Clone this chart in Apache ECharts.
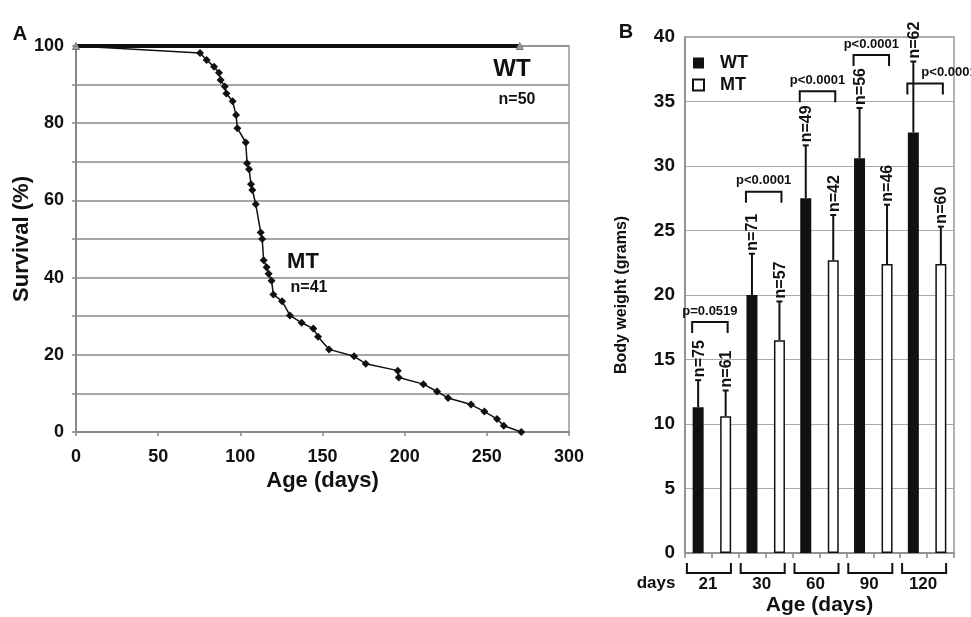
<!DOCTYPE html>
<html><head><meta charset="utf-8">
<script src="https://cdn.jsdelivr.net/npm/echarts@6/dist/echarts.min.js"></script>
<style>html,body{margin:0;padding:0;background:#fff}#c{width:971px;height:617px}</style>
</head><body><div id="c"></div>
<script>
// ---------- Panel A: survival ----------
const mtAge = [0,75.5,79.5,84,87,88,90.5,91.5,95.3,97.4,98.2,103.3,104.1,105.3,106.5,107.3,109.4,112.4,113.3,114.2,116,117.2,119,120.1,125.4,130.2,137.3,144.4,147.3,154,169.2,176.3,195.8,196.4,211.4,219.7,226.4,240.4,248.5,256.2,260.3,271];
const mtSurvival = [100,98.2,96.4,94.6,93.1,91.2,89.5,87.7,85.7,82.1,78.7,75.0,69.6,68.1,64.2,62.7,59.0,51.7,50.0,44.5,42.7,41.0,39.2,35.6,33.9,30.2,28.3,26.8,24.7,21.4,19.6,17.7,15.9,14.1,12.4,10.5,8.8,7.1,5.3,3.4,1.6,0];
const wtAge = [0, 270];
const wtSurvival = [100, 100];
const survivalTicks = [0,20,40,60,80,100];

// ---------- Panel B: body weight ----------
const ageCategories = ['21','30','60','90','120'];
const wtWeight = [11.3, 20.0, 27.5, 30.6, 32.6];
const wtErrTop = [13.4, 23.2, 31.6, 34.5, 38.1];
const mtWeight = [10.6, 16.5, 22.7, 22.4, 22.4];
const mtErrTop = [12.6, 19.5, 26.2, 27.0, 25.3];
const wtN = ['n=75','n=71','n=49','n=56','n=62'];
const mtN = ['n=61','n=57','n=42','n=46','n=60'];
const pLabels = ['p=0.0519','p<0.0001','p<0.0001','p<0.0001','p<0.0001'];
const pLevels = [17.9, 28.0, 35.8, 38.6, 36.4];

const FONT = "'Liberation Sans', Arial, Helvetica, sans-serif";
const INK = '#111';
const BAR_W = 11, BAR_GAP = 1.5;
const OFF = (BAR_W + BAR_W * BAR_GAP) / 2;

const chart = echarts.init(document.getElementById('c'), null, {renderer: 'canvas'});

function errSeries(name, values, tops, labels, sign) {
  return {
    type: 'custom', name: name, xAxisIndex: 1, yAxisIndex: 1, clip: false, z: 5,
    data: values.map((v, i) => [i, v, tops[i]]),
    encode: {x: 0, y: [1, 2]},
    renderItem: function (params, api) {
      const i = api.value(0);
      const b = api.coord([i, api.value(1)]);
      const t = api.coord([i, api.value(2)]);
      const x = b[0] + sign * OFF;
      return {type: 'group', children: [
        {type: 'line', shape: {x1: x, y1: b[1], x2: x, y2: t[1]}, style: {stroke: INK, lineWidth: 2}},
        {type: 'line', shape: {x1: x - 3, y1: t[1], x2: x + 3, y2: t[1]}, style: {stroke: INK, lineWidth: 2}},
        {type: 'text', x: x + 1, y: t[1] - 3, rotation: Math.PI / 2,
          style: {text: labels[params.dataIndex], fill: INK, font: 'bold 16px ' + FONT, align: 'left', verticalAlign: 'middle'}}
      ]};
    }
  };
}

const option = {
  animation: false,
  backgroundColor: '#fff',
  textStyle: {fontFamily: FONT},
  grid: [
    {left: 76, right: 402, top: 46, bottom: 185, show: true, borderColor: '#999', borderWidth: 1.5,
      backgroundColor: 'transparent', containLabel: false, outerBoundsMode: 'none'},
    {left: 685, right: 17, top: 37, bottom: 64, show: true, borderColor: '#999', borderWidth: 1.5,
      backgroundColor: 'transparent', containLabel: false, outerBoundsMode: 'none'}
  ],
  legend: {
    data: ['WT', 'MT'], orient: 'vertical', left: 687, top: 49, icon: 'rect',
    itemWidth: 11, itemHeight: 11, itemGap: 4,
    textStyle: {fontFamily: FONT, fontWeight: 'bold', fontSize: 18, color: INK, padding: [0, 0, 0, 11], lineHeight: 18}
  },
  xAxis: [
    {type: 'value', gridIndex: 0, min: 0, max: 300, interval: 50,
      name: 'Age (days)', nameLocation: 'middle', nameGap: 38, nameMoveOverlap: false,
      nameTextStyle: {fontFamily: FONT, fontWeight: 'bold', fontSize: 22, color: INK},
      axisLine: {lineStyle: {color: '#888', width: 2}},
      axisTick: {show: true, length: 4, lineStyle: {color: '#888', width: 1.5}},
      axisLabel: {fontFamily: FONT, fontWeight: 'bold', fontSize: 18, color: INK, margin: 16},
      splitLine: {show: false}},
    {type: 'category', gridIndex: 1, data: ageCategories,
      name: 'Age (days)', nameLocation: 'middle', nameGap: 42, nameMoveOverlap: false,
      nameTextStyle: {fontFamily: FONT, fontWeight: 'bold', fontSize: 21, color: INK, lineHeight: 21},
      axisLine: {lineStyle: {color: '#888', width: 1.5}},
      axisTick: {show: false},
      axisLabel: {fontFamily: FONT, fontWeight: 'bold', fontSize: 17, color: INK, margin: 23, padding: [0, 8, 0, 0]}},
    {type: 'category', gridIndex: 1, data: ['', '', '', '', '', '', '', '', '', ''], position: 'bottom',
      axisLine: {show: false}, axisLabel: {show: false},
      axisTick: {show: true, length: 5, lineStyle: {color: '#888', width: 1.5}}}
  ],
  yAxis: [
    {type: 'value', gridIndex: 0, min: 0, max: 100, interval: 10,
      name: 'Survival (%)', nameLocation: 'middle', nameGap: 43, nameMoveOverlap: false,
      nameTextStyle: {fontFamily: FONT, fontWeight: 'bold', fontSize: 22, color: INK},
      axisLine: {show: true, lineStyle: {color: '#888', width: 2}},
      axisTick: {show: true, length: 4, lineStyle: {color: '#888', width: 1.5}},
      axisLabel: {fontFamily: FONT, fontWeight: 'bold', fontSize: 18, color: INK, margin: 12,
        formatter: v => survivalTicks.indexOf(v) >= 0 ? String(v) : ''},
      splitLine: {show: true, lineStyle: {color: '#888', width: 1.5}}},
    {type: 'value', gridIndex: 1, min: 0, max: 40, interval: 5,
      name: 'Body weight (grams)', nameLocation: 'middle', nameGap: 55, nameMoveOverlap: false,
      nameTextStyle: {fontFamily: FONT, fontWeight: 'bold', fontSize: 16, color: INK},
      axisLine: {show: true, lineStyle: {color: '#888', width: 1.5}},
      axisTick: {show: false},
      axisLabel: {fontFamily: FONT, fontWeight: 'bold', fontSize: 19, color: INK, margin: 10},
      splitLine: {show: true, lineStyle: {color: '#aaa', width: 1}}}
  ],
  series: [
    {type: 'line', name: 'MT survival', xAxisIndex: 0, yAxisIndex: 0,
      data: mtAge.map((a, i) => i === 0 ? {value: [a, mtSurvival[i]], symbol: 'none'} : [a, mtSurvival[i]]),
      symbol: 'diamond', symbolSize: 8, showAllSymbol: true,
      itemStyle: {color: INK}, lineStyle: {color: INK, width: 1.5}, z: 3},
    {type: 'line', name: 'WT survival', xAxisIndex: 0, yAxisIndex: 0,
      data: wtAge.map((a, i) => [a, wtSurvival[i]]),
      symbol: 'triangle', symbolSize: 7,
      itemStyle: {color: '#999', borderColor: '#777', borderWidth: 1},
      lineStyle: {color: INK, width: 4}, z: 4},
    {type: 'bar', name: 'WT', xAxisIndex: 1, yAxisIndex: 1, data: wtWeight,
      barWidth: BAR_W, barGap: (BAR_GAP * 100) + '%',
      itemStyle: {color: INK}},
    {type: 'bar', name: 'MT', xAxisIndex: 1, yAxisIndex: 1, data: mtWeight,
      barWidth: BAR_W, barGap: (BAR_GAP * 100) + '%',
      itemStyle: {color: '#fff', borderColor: INK, borderWidth: 1.5}},
    errSeries('WT err', wtWeight, wtErrTop, wtN, -1),
    errSeries('MT err', mtWeight, mtErrTop, mtN, 1),
    {type: 'custom', name: 'p brackets', xAxisIndex: 1, yAxisIndex: 1, clip: false, z: 6,
      data: pLevels.map((v, i) => [i, v]),
      encode: {x: 0, y: 1},
      renderItem: function (params, api) {
        const i = api.value(0);
        const p = api.coord([i, api.value(1)]);
        const x1 = p[0] - OFF - 6, x2 = p[0] + OFF + 2;
        const last = params.dataIndex === pLabels.length - 1;
        return {type: 'group', children: [
          {type: 'polyline', shape: {points: [[x1, p[1] + 11], [x1, p[1]], [x2, p[1]], [x2, p[1] + 11]]},
            style: {stroke: INK, lineWidth: 2, fill: null}},
          {type: 'text', x: last ? x1 + 14 : (x1 + x2) / 2, y: p[1] - 11,
            style: {text: pLabels[params.dataIndex], fill: INK, font: 'bold 13px ' + FONT,
              align: last ? 'left' : 'center', verticalAlign: 'middle'}}
        ]};
      }},
    {type: 'custom', name: 'age brackets', xAxisIndex: 1, yAxisIndex: 1, clip: false, z: 6,
      data: ageCategories.map((c, i) => [i, 0]),
      encode: {x: 0, y: 1},
      renderItem: function (params, api) {
        const p = api.coord([api.value(0), 0]);
        const x1 = p[0] - 25, x2 = p[0] + 19, y1 = p[1] + 10, y2 = p[1] + 20;
        return {type: 'polyline', shape: {points: [[x1, y1], [x1, y2], [x2, y2], [x2, y1]]},
          style: {stroke: INK, lineWidth: 2, fill: null}};
      }}
  ],
  graphic: [
    {type: 'text', x: 20, y: 34, style: {text: 'A', font: 'bold 20px ' + FONT, fill: INK, align: 'center', verticalAlign: 'middle'}},
    {type: 'text', x: 626, y: 32, style: {text: 'B', font: 'bold 20px ' + FONT, fill: INK, align: 'center', verticalAlign: 'middle'}},
    {type: 'text', x: 512, y: 69, style: {text: 'WT', font: 'bold 24px ' + FONT, fill: INK, align: 'center', verticalAlign: 'middle'}},
    {type: 'text', x: 517, y: 100, style: {text: 'n=50', font: 'bold 16px ' + FONT, fill: INK, align: 'center', verticalAlign: 'middle'}},
    {type: 'text', x: 303, y: 262, style: {text: 'MT', font: 'bold 22px ' + FONT, fill: INK, align: 'center', verticalAlign: 'middle'}},
    {type: 'text', x: 309, y: 288, style: {text: 'n=41', font: 'bold 16px ' + FONT, fill: INK, align: 'center', verticalAlign: 'middle'}},
    {type: 'text', x: 656, y: 583, style: {text: 'days', font: 'bold 17px ' + FONT, fill: INK, align: 'center', verticalAlign: 'middle'}}
  ]
};
chart.setOption(option);
</script>
</body></html>
